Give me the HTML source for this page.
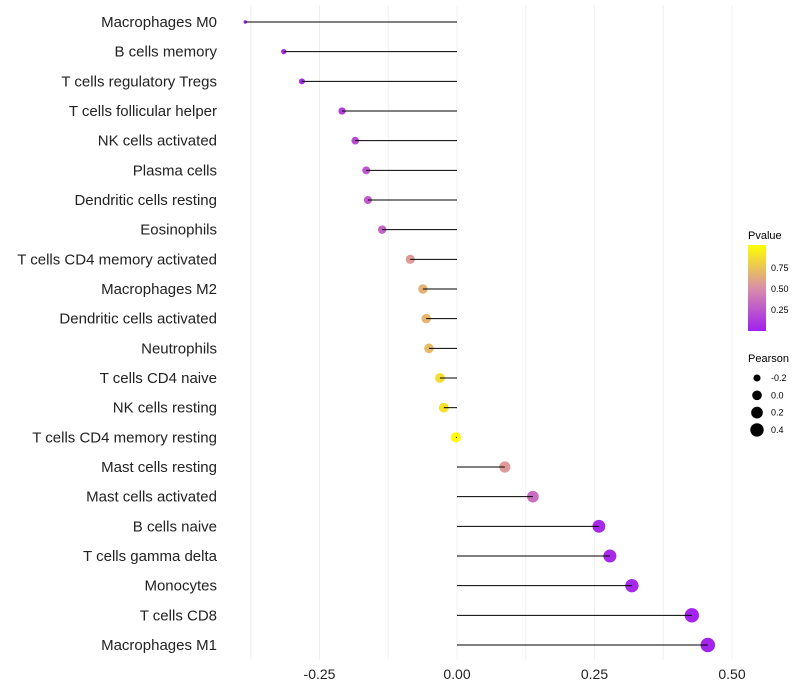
<!DOCTYPE html>
<html><head><meta charset="utf-8"><style>
body{margin:0;background:#fff;font-family:"Liberation Sans",sans-serif;}
svg{display:block}
</style></head><body>
<svg id="chart" width="800" height="700">
<defs><linearGradient id="pg" x1="0" y1="1" x2="0" y2="0">
<stop offset="0" stop-color="#a020f0"/><stop offset="0.5" stop-color="#d98fa8"/><stop offset="1" stop-color="#ffff00"/>
</linearGradient></defs>
<g id="grid"></g><g id="marks"></g><g id="ylabels"></g><g id="xticks"></g>
<g>
<text x="748" y="239" font-size="11">Pvalue</text>
<rect x="748" y="245" width="18" height="86" fill="url(#pg)"/>
<text x="771" y="271" font-size="9">0.75</text>
<text x="771" y="292" font-size="9">0.50</text>
<text x="771" y="313" font-size="9">0.25</text>
</g>
<g id="sizeLegend">
<text x="748" y="362" font-size="11">Pearson</text>
</g>
</svg>
<script>
const categories=["Macrophages M0","B cells memory","T cells regulatory  Tregs ","T cells follicular helper","NK cells activated","Plasma cells","Dendritic cells resting","Eosinophils","T cells CD4 memory activated","Macrophages M2","Dendritic cells activated","Neutrophils","T cells CD4 naive","NK cells resting","T cells CD4 memory resting","Mast cells resting","Mast cells activated","B cells naive","T cells gamma delta","Monocytes","T cells CD8","Macrophages M1"];
const pearson=[-0.385,-0.315,-0.282,-0.209,-0.185,-0.165,-0.162,-0.136,-0.085,-0.062,-0.056,-0.051,-0.031,-0.024,-0.002,0.087,0.138,0.258,0.278,0.318,0.427,0.456];
const pvalue=[0.03,0.05,0.06,0.15,0.2,0.25,0.27,0.3,0.55,0.65,0.67,0.7,0.85,0.87,0.99,0.55,0.35,0.05,0.05,0.05,0.02,0.02];
const xTicks=[-0.25,0,0.25,0.5];
const xTickLabels=["-0.25","0.00","0.25","0.50"];
const sizeLegendVals=[-0.2,0,0.2,0.4];
const NS="http://www.w3.org/2000/svg";
const xs=v=>457+v*550, ys=i=>22+i*29.667;
const rs=v=>Math.sqrt(Math.max(0,3+(v+0.385)/0.841*50));
function lerp(a,b,t){return a.map((x,i)=>Math.round(x+(b[i]-x)*t));}
function col(p){const s=[[160,32,240],[217,143,168],[255,255,0]];const t=Math.min(1,Math.max(0,p));const c=t<0.5?lerp(s[0],s[1],t/0.5):lerp(s[1],s[2],(t-0.5)/0.5);return `rgb(${c})`;}
function mk(tag,a,parent){const e=document.createElementNS(NS,tag);for(const k in a)e.setAttribute(k,a[k]);parent.appendChild(e);return e;}
const grid=document.getElementById('grid'),marks=document.getElementById('marks'),yl=document.getElementById('ylabels'),xt=document.getElementById('xticks');
[-0.375,-0.25,-0.125,0,0.125,0.25,0.375,0.5].forEach(v=>{const l=mk('line',{x1:xs(v),x2:xs(v),y1:5,y2:660,stroke:'#f0f0f0','stroke-width':1},grid);

});
xTicks.forEach((v,i)=>{const t=mk('text',{x:xs(v),y:679,'font-size':14,'text-anchor':'middle',fill:'#222'},xt);t.textContent=xTickLabels[i];

});
categories.forEach((c,i)=>{const y=ys(i);
const t=mk('text',{x:217,y:y+5,'font-size':15,'text-anchor':'end',fill:'#222'},yl);t.textContent=c;


const ci=mk('circle',{cx:xs(pearson[i]),cy:y,r:rs(pearson[i]),fill:col(pvalue[i])},marks);


const l=mk('line',{x1:xs(0),x2:xs(pearson[i]),y1:y,y2:y,stroke:'#000','stroke-width':1},marks);

});
const sl=document.getElementById('sizeLegend');
sizeLegendVals.forEach((v,i)=>{const y=378+i*17.3;
const c=mk('circle',{cx:757,cy:y,r:rs(v)*0.95,fill:'#000'},sl);


const t=mk('text',{x:771,y:y+3,'font-size':9},sl);t.textContent=(v===0?'0.0':String(v));

});
</script>
</body></html>
